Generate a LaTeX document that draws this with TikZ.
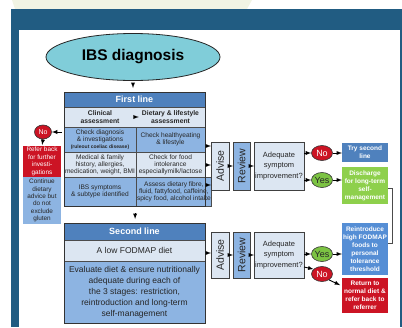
\documentclass[tikz,border=0pt]{standalone}
\usepackage{fontspec}
\setmainfont{Liberation Sans}
\usepackage{tikz}
\usetikzlibrary{shapes.geometric}
\usetikzlibrary{arrows}

\definecolor{framebl}{HTML}{215C82}
\definecolor{palegreen}{HTML}{F1F4E4}
\definecolor{ibsteal}{HTML}{80CDD9}
\definecolor{headbl}{HTML}{4F81BD}
\definecolor{lightbl}{HTML}{DCE6F2}
\definecolor{midbl}{HTML}{8DB4E2}
\definecolor{outbl}{HTML}{558ED5}
\definecolor{redbox}{HTML}{CC1424}
\definecolor{greenbox}{HTML}{8ED04C}
\definecolor{greenoval}{HTML}{7CC343}

\tikzset{
  cell/.style={draw=black!70, line width=0.5pt, inner sep=1pt, outer sep=0pt,
    align=center, text=black!85, anchor=north west,
    font=\fontsize{6.6}{7.2}\selectfont},
  celllt/.style={cell, fill=lightbl},
  cellmd/.style={cell, fill=midbl},
  headcell/.style={cell, fill=headbl, text=white,
    font=\bfseries\fontsize{9}{10}\selectfont},
  subhead/.style={align=center, text=black!85, inner sep=0pt,
    font=\bfseries\fontsize{6.8}{7.6}\selectfont},
  tabframe/.style={draw=black!80, line width=1.2pt, anchor=north west, inner sep=0pt},
  sidebox/.style={draw=black!75, line width=0.8pt, inner sep=0pt, outer sep=0pt,
    text=black!85, align=center},
  outbox/.style={inner sep=1pt, outer sep=0pt, align=center, text=white, anchor=north west,
    font=\bfseries\fontsize{6.5}{8}\selectfont},
  ans/.style={ellipse, draw=black!80, line width=0.6pt, inner sep=0pt,
    minimum width=21pt, minimum height=15pt, font=\fontsize{9}{9}\selectfont},
  arr/.style={-latex, line width=0.9pt},
}

\begin{document}
\begin{tikzpicture}[x=1pt, y=-1pt]
        \useasboundingbox (0,0) rectangle (402,327);
        % background and frame
        \fill[palegreen] (12,0) -- (252,0) -- (247,9) -- (15,9) -- cycle;
        \fill[framebl] (11,9) rectangle (402,327);
        \fill[white] (19,30) rectangle (400,327);

        \node[ellipse, draw=black!85, line width=0.8pt, fill=ibsteal,
            minimum width=174pt, minimum height=47pt,
            font=\bfseries\fontsize{15.5}{16}\selectfont] (ibs) at (133,57) {IBS diagnosis};

        % first line table
        \node[headcell, minimum width=141pt, minimum height=15pt] (hdA) at (64,92) {First line};
        \node[celllt, minimum width=141pt, minimum height=20pt] (subA) at (64,107) {};
        \node[subhead] (clin) at (100,117) {Clinical\\assessment};
        \node[subhead] (diet) at (170.5,117) {Dietary \& lifestyle\\assessment};
        \node[cellmd, minimum width=72pt, minimum height=25pt] (chkdx) at (64,127)
            {Check diagnosis\\\& investigations\\{\bfseries\fontsize{5}{6}\selectfont(ruleout coeliac disease)}};
        \node[cellmd, minimum width=69pt, minimum height=25pt] (chkeat) at (136,127)
            {Check healthyeating\\\& lifestyle};
        \node[celllt, minimum width=72pt, minimum height=25pt] (hist) at (64,152)
            {Medical \& family\\history, allergies,\\medication, weight, BMI};
        \node[celllt, minimum width=69pt, minimum height=25pt] (intol) at (136,152)
            {Check for food\\intolerance\\especiallymilk/lactose};
        \node[cellmd, minimum width=72pt, minimum height=29pt] (sympt) at (64,177)
            {IBS symptoms\\\& subtype identified};
        \node[cellmd, minimum width=69pt, minimum height=29pt] (fibre) at (136,177)
            {Assess dietary fibre,\\fluid, fattyfood, caffeine,\\spicy food, alcohol intake};
        \node[tabframe, minimum width=141pt, minimum height=114pt] (tabA) at (64,92) {};

        % second line table
        \node[headcell, minimum width=141pt, minimum height=17pt] (hdB) at (64,223) {Second line};
        \node[celllt, minimum width=141pt, minimum height=21pt,
            font=\fontsize{8.5}{11}\selectfont] (fod) at (64,240) {A low FODMAP diet};
        \node[cellmd, minimum width=141pt, minimum height=62pt,
            font=\fontsize{8.5}{11}\selectfont] (evalu) at (64,261)
            {Evaluate diet \& ensure nutritionally\\adequate during each of\\the 3 stages: restriction,\\reintroduction and long-term\\self-management};
        \node[tabframe, minimum width=141pt, minimum height=100pt] (tabB) at (64,223) {};

        % advise / review / question, first line
        \node[sidebox, fill=lightbl, minimum width=18pt, minimum height=48pt,
            font=\fontsize{10.5}{11}\selectfont] (advA) at (220,166) {\rotatebox{90}{Advise}};
        \node[sidebox, fill=midbl, minimum width=17pt, minimum height=48pt,
            font=\fontsize{10.5}{11}\selectfont] (revA) at (241.5,166) {\rotatebox{90}{Review}};
        \node[sidebox, fill=lightbl, minimum width=50pt, minimum height=48pt,
            font=\fontsize{7.5}{10.5}\selectfont] (adqA) at (279,166) {Adequate\\symptom\\improvement?};
        \node[ans, fill=redbox, text=white] (noA) at (322,153) {No};
        \node[ans, fill=greenoval, text=black!85] (yesA) at (322,180) {Yes};
        \node[outbox, fill=headbl, minimum width=46pt, minimum height=19pt] (trybox) at (342,143)
            {Try second\\line};
        \node[outbox, fill=greenbox, minimum width=46pt, minimum height=37pt] (dischbox) at (342,167)
            {Discharge\\for long-term\\self-\\management};

        % advise / review / question, second line
        \node[sidebox, fill=lightbl, minimum width=18pt, minimum height=46pt,
            font=\fontsize{10.5}{11}\selectfont] (advB) at (220,255) {\rotatebox{90}{Advise}};
        \node[sidebox, fill=midbl, minimum width=17pt, minimum height=46pt,
            font=\fontsize{10.5}{11}\selectfont] (revB) at (241.5,255) {\rotatebox{90}{Review}};
        \node[sidebox, fill=lightbl, minimum width=50pt, minimum height=46pt,
            font=\fontsize{7.5}{10.5}\selectfont] (adqB) at (279,255) {Adequate\\symptom\\improvement?};
        \node[ans, fill=greenoval, text=black!85] (yesB) at (322,254) {Yes};
        \node[ans, fill=redbox, text=white] (noB) at (322,274) {No};
        \node[outbox, fill=outbl, minimum width=46pt, minimum height=52pt] (reintro) at (342,223)
            {Reintroduce\\high FODMAP\\foods to\\personal\\tolerance\\threshold};
        \node[outbox, fill=redbox, minimum width=46pt, minimum height=35pt] (retbox) at (342,278)
            {Return to\\normal diet \&\\refer back to\\referrer};

        % left branch
        \node[ans, fill=redbox, text=white, minimum width=17pt, minimum height=14pt,
            font=\fontsize{7}{7}\selectfont] (noL) at (43,132) {No};
        \node[outbox, fill=redbox, minimum width=38pt, minimum height=31pt,
            font=\fontsize{6.4}{7.5}\selectfont] (refer) at (23,146)
            {Refer back\\for further\\investi-\\gations};
        \node[outbox, fill=midbl, text=black!85, minimum width=38pt, minimum height=47pt,
            font=\fontsize{6.4}{7.3}\selectfont] (contin) at (23,177)
            {Continue\\dietary\\advice but\\do not\\exclude\\gluten};

        % connectors
        \draw[arr, shorten <=3pt, shorten >=4pt] (ibs.south) -- (ibs.south |- hdA.north);
        \draw[arr, shorten <=6pt, shorten >=4pt] (tabA.south) -- (tabB.north);
        \draw[arr, shorten <=14pt, shorten >=3pt] (clin.east) -- (diet.west);
        \foreach \yy in {146,165,185}
            \draw[arr] (tabA.east |- 0,\yy) -- (advA.west |- 0,\yy);
        \draw[arr] (advA.east) -- (revA.west);
        \draw[arr] (revA.east) -- (adqA.west);
        \draw[arr] (adqA.east |- noA) -- (noA.west);
        \draw[arr] (adqA.east |- yesA) -- (yesA.west);
        \draw[arr] (noA.east) -- (trybox.west |- noA);
        \draw[arr] (yesA.east) -- (dischbox.west |- yesA);
        \draw[black!70, line width=0.9pt] (dischbox.east |- 0,188) -- ++(4,0)
            |- (reintro.east |- 0,243);

        \draw[arr] (tabB.east |- 0,253) -- (advB.west |- 0,253);
        \draw[arr] (advB.east) -- (revB.west);
        \draw[arr] (revB.east) -- (adqB.west);
        \draw[arr] (adqB.east |- yesB) -- (yesB.west);
        \draw[arr] (adqB.east |- 0,267) -- (noB.150);
        \draw[arr] (yesB.east) -- (reintro.west |- yesB);
        \draw[arr, shorten >=2pt] (noB.-40) -- (retbox.west |- 0,286);

        \draw[arr, shorten <=2pt] (tabA.west |- noL) -- (noL.east);
        \draw[arr, shorten >=1pt] (noL.south) -- (refer.north);
\end{tikzpicture}
\end{document}
